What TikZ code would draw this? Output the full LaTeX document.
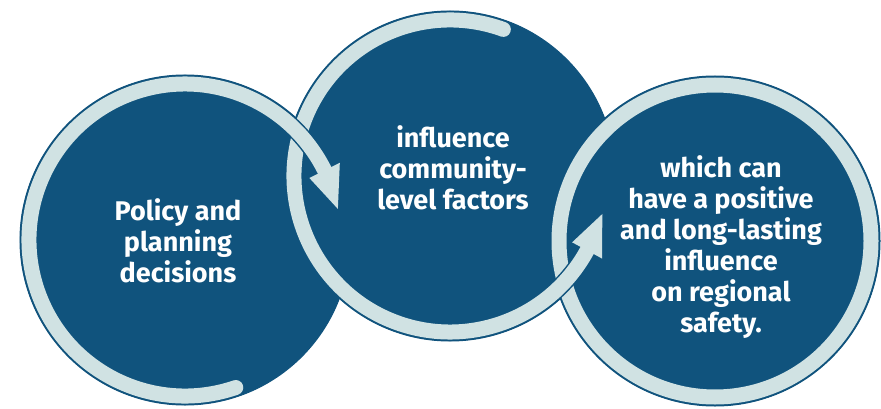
\documentclass[tikz,border=0pt]{standalone}
\usepackage{fontspec}
\setmainfont{Fira Sans}
\usepackage{xcolor}
\usetikzlibrary{calc}
\definecolor{discblue}{HTML}{10537D}
\definecolor{ringgrey}{HTML}{D0E2E3}

\begin{document}
\begin{tikzpicture}[x=1pt, y=1pt,
  disc/.style={circle, fill=discblue, draw=discblue, line width=1pt, minimum size=330pt, inner sep=0pt},
  rimline/.style={discblue, line width=18pt, line cap=round},
  ringline/.style={ringgrey, line width=15pt, line cap=round},
  headrim/.style={draw=discblue, fill=discblue, line width=3pt, line join=round},
  headfill/.style={fill=ringgrey},
  txt/.style={text=white, font=\fontsize{27}{31}\selectfont\bfseries, align=center}]
\useasboundingbox (0,0) rectangle (881,408);
\node[disc] (c1) at (185,168) {};
\node[disc] (c2) at (450,232) {};
\node[disc] (c3) at (715,167) {};
% closed ring on the last circle
\draw[rimline] (c3) circle[radius=156];
\draw[ringline] (c3) circle[radius=156];
% ring of the middle circle, arrow into the last one
\draw[rimline] ($(c2)+(70:156)$) arc[start angle=70, end angle=331.5, radius=156];
\draw[headrim] ($(c2)+(-28.5:139)$) -- ($(c2)+(-28.5:173)$) -- ($(c2)+(-14:157)$) -- cycle;
\draw[ringline] ($(c2)+(70:156)$) arc[start angle=70, end angle=331.5, radius=156];
\fill[headfill] ($(c2)+(-28.5:139)$) -- ($(c2)+(-28.5:173)$) -- ($(c2)+(-14:157)$) -- cycle;
% ring of the first circle, arrow into the middle one
\draw[rimline] ($(c1)+(-71:156)$) arc[start angle=-71, end angle=-333.5, radius=156];
\draw[headrim] ($(c1)+(26.5:139)$) -- ($(c1)+(26.5:173)$) -- ($(c1)+(11.5:156)$) -- cycle;
\draw[ringline] ($(c1)+(-71:156)$) arc[start angle=-71, end angle=-333.5, radius=156];
\fill[headfill] ($(c1)+(26.5:139)$) -- ($(c1)+(26.5:173)$) -- ($(c1)+(11.5:156)$) -- cycle;
% texts
\node[txt] (t1) at (178,167) {Policy and\\planning\\decisions};
\node[txt] (t2) at (453,240) {influence\\community-\\level factors};
\node[txt] (t3) at (721,161) {which can\\have a positive\\and long-lasting\\influence\\on regional\\safety.};
\end{tikzpicture}
\end{document}
